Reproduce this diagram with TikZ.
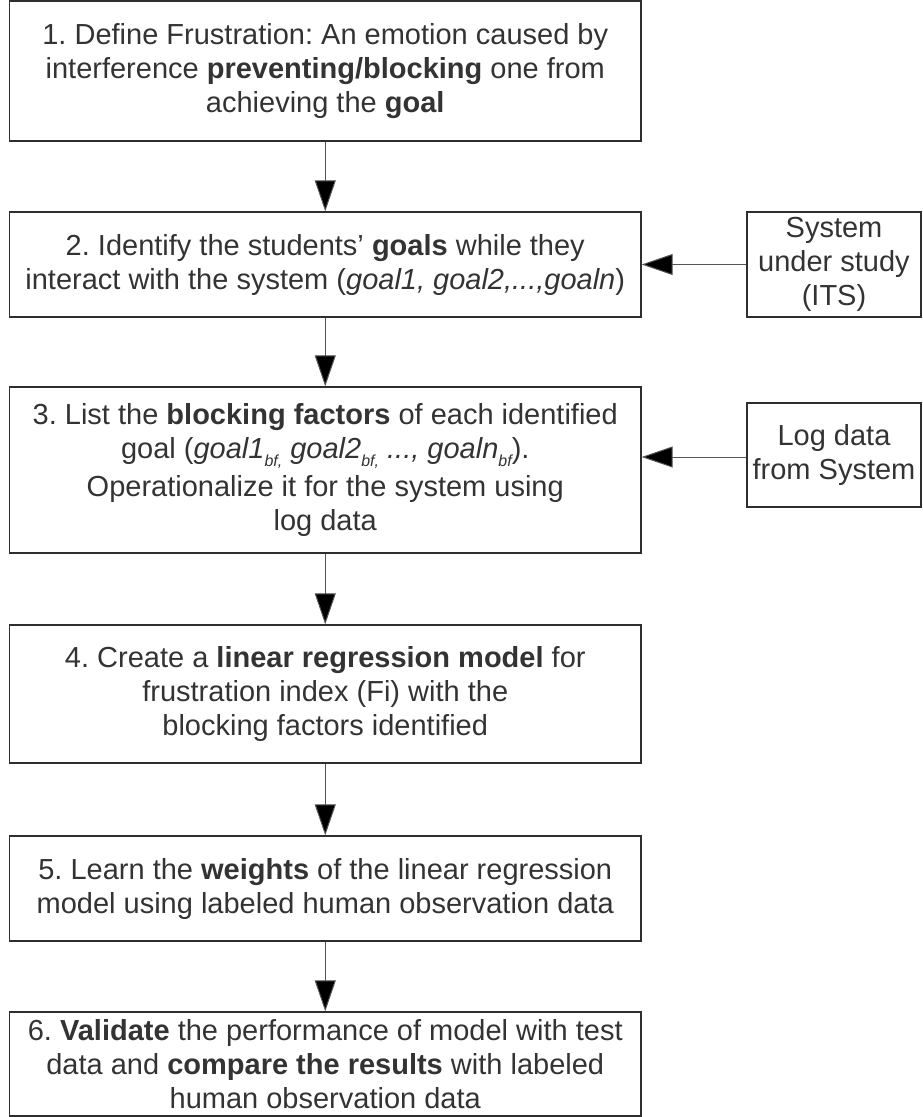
\documentclass[tikz,border=0pt]{standalone}
\usepackage{fontspec}
\setmainfont{Liberation Sans}
\usetikzlibrary{arrows.meta}
\definecolor{txt}{HTML}{333333}
\definecolor{edge}{HTML}{2E2E2E}
\definecolor{wire}{HTML}{555555}
\newcommand{\bfsub}[1]{\raisebox{-8pt}{\fontsize{16}{16}\selectfont\itshape #1}}
\begin{document}
\frenchspacing
\begin{tikzpicture}[x=1pt,y=-1pt,
  basebox/.style={draw=edge, line width=1.3pt, text=txt, align=center, inner sep=0pt,
    font=\fontsize{29}{34}\selectfont\frenchspacing},
  mainbox/.style={basebox, minimum width=631.5pt},
  sidebox/.style={basebox, minimum width=174pt},
  flow/.style={draw=wire, line width=1pt, -{Triangle[length=31pt,width=21pt,fill=black]}}]
\useasboundingbox (0,0) rectangle (922,1117);
\node[mainbox, minimum height=140pt] (b1) at (325.25,71)
  {1. Define Frustration: An emotion caused by\\ interference \textbf{preventing/blocking} one from\\ achieving the \textbf{goal}};
\node[mainbox, minimum height=105pt] (b2) at (325.25,264.5)
  {2. Identify the students’ \textbf{goals} while they\\ interact with the system (\textit{goal1, goal2,...,goaln})};
\node[mainbox, minimum height=166pt] (b3) at (325.25,470)
  {3. List the \textbf{blocking factors} of each identified\\ goal (\textit{goal1}\bfsub{bf,} \textit{goal2}\bfsub{bf,} \textit{..., goaln}\bfsub{bf}).\\[4pt] Operationalize it for the system using\\ log data};
\node[mainbox, minimum height=138pt] (b4) at (325.25,694)
  {4. Create a \textbf{linear regression model} for\\ frustration index (Fi) with the\\ blocking factors identified};
\node[mainbox, minimum height=105pt] (b5) at (325.25,888.5)
  {5. Learn the \textbf{weights} of the linear regression\\ model using labeled human observation data};
\node[mainbox, minimum height=104pt] (b6) at (325.25,1064)
  {6. \textbf{Validate} the performance of model with test\\ data and \textbf{compare the results} with labeled\\ human observation data};
\node[sidebox, minimum height=105pt] (s1) at (834,264.5)
  {System\\ under study\\ (ITS)};
\node[sidebox, minimum height=104pt] (s2) at (834,455)
  {Log data\\ from System};
\draw[flow] (b1) -- (b2);
\draw[flow] (b2) -- (b3);
\draw[flow] (b3) -- (b4);
\draw[flow] (b4) -- (b5);
\draw[flow] (b5) -- (b6);
\draw[flow] (s1) -- (b2);
\draw[flow] (s2.west |- 0,457) -- (b3.east |- 0,457);
\end{tikzpicture}
\end{document}
